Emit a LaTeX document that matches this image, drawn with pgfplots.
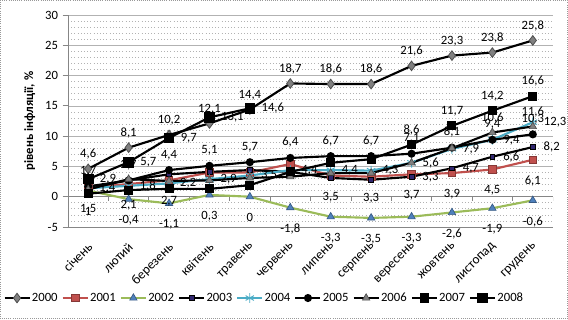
\documentclass[border=0pt]{standalone}
\usepackage{pgfplots}
\usepackage{pgfplotstable}
\pgfplotsset{compat=1.18}
\usepackage{fontspec}
\setmainfont{Carlito}

\definecolor{gridline}{RGB}{178,178,178}
\definecolor{axisgray}{RGB}{134,134,134}
\definecolor{c2001}{RGB}{192,80,77}
\definecolor{c2002line}{RGB}{155,187,89}
\definecolor{c2002mark}{RGB}{79,129,189}
\definecolor{c2003mark}{RGB}{48,38,110}
\definecolor{c2004}{RGB}{75,172,198}
\definecolor{markgray}{RGB}{128,128,128}

% cumulative inflation since the start of each year, %
\pgfplotstableread{
m  y2000 y2001 y2002 y2003 y2004 y2005 y2006 y2007
0   4.6  1.5   1.0  1.5   1.4   1.7   1.2   0.5
1   8.1  2.1  -0.4  2.7   1.8   2.7   2.9   1.1
2  10.2  2.7  -1.1  3.7   2.2   4.4   2.6   1.3
3  12.1  4.0   0.3  4.1   2.9   5.1   2.7   1.3
4  14.4  4.0   0.0  4.4   3.5   5.7   3.1   1.9
5  18.7  5.4  -1.8  4.1   4.4   6.4   3.3   4.1
6  18.6  3.5  -3.3  3.1   4.4   6.7   3.9   5.6
7  18.6  3.3  -3.5  2.8   4.3   6.7   3.9   6.2
8  21.6  3.7  -3.3  3.3   5.6   7.1   5.6   8.6
9  23.3  3.9  -2.6  4.7   7.9   8.1   8.0  11.7
10 23.8  4.5  -1.9  6.6   9.4   9.4  10.6  14.2
11 25.8  6.1  -0.6  8.2  12.3  10.3  11.6  16.6
}\inflation

\pgfplotstableread{
m  y2008
0   2.9
1   5.7
2   9.7
3  13.1
4  14.6
}\inflationeight

\pgfplotsset{
  lblabove/.style={nodes near coords, every node near coord/.append style={anchor=south, yshift=6pt}},
  lblbelow/.style={nodes near coords, every node near coord/.append style={anchor=north, yshift=-11pt}},
  lblright/.style={nodes near coords, every node near coord/.append style={anchor=west, xshift=7pt}},
}

\begin{document}
\begin{tikzpicture}
\begin{axis}[
  name=ax,
  scale only axis,
  width=363.75pt, height=159pt,
  xmin=-0.5, xmax=11.5, ymin=-5, ymax=30,
  xtick={0,...,11},
  xticklabels={січень,лютий,березень,квітень,травень,червень,липень,серпень,вересень,жовтень,листопад,грудень},
  xticklabel style={xshift=-1pt, yshift=-2pt, rotate=45, anchor=north east, font=\fontsize{10}{12}\selectfont},
  x tick style={draw=none},
  ytick={-5,0,...,30},
  minor y tick num=4,
  ymajorgrids, yminorgrids,
  major grid style={gridline, line width=0.5pt},
  minor grid style={gridline, dotted, line width=0.5pt},
  axis lines*=left,
  axis line style={axisgray, line width=0.6pt},
  y tick style={axisgray, line width=0.6pt},
  tick align=outside,
  major tick length=4pt,
  minor tick length=0pt,
  yticklabel style={font=\fontsize{9.5}{11}\selectfont},
  ylabel={рівень інфляції, \%},
  ylabel style={at={(axis description cs:-0.079,0.5)}, anchor=center, font=\fontsize{9.5}{11}\selectfont\bfseries},
  /pgf/number format/use comma,
  /pgf/number format/fixed,
  /pgf/number format/precision=1,
  /pgf/number format/assume math mode=true,
  every node near coord/.append style={text=black, font=\fontsize{9.5}{11}\selectfont, inner sep=1pt},
  legend columns=9,
  legend style={at={(0.404,-0.335)}, anchor=center, draw=none, fill=none,
    font=\fontsize{9.5}{11}\selectfont,
    nodes={inner sep=1pt},
    /tikz/every even column/.append style={column sep=2pt}},
  legend image code/.code={\draw[mark repeat=2, mark phase=2, #1] plot coordinates {(0cm,0cm) (0.33cm,0cm) (0.66cm,0cm)};},
]

% horizontal axis line through zero with category separators
\draw[axisgray, line width=0.6pt] (axis cs:-0.5,0) -- (axis cs:11.5,0);
\pgfplotsinvokeforeach{-0.5,0.5,...,11.5}{
  \draw[axisgray, line width=0.6pt] (axis cs:#1,0) -- ++(0pt,-3pt);
}

\addplot[black, line width=1.6pt, mark=diamond*, mark size=3.6pt,
  mark options={fill=markgray, draw=markgray!60!black, line width=0.6pt},
  lblabove]
  table[x=m, y=y2000] {\inflation};
\addlegendentry{2000}

\addplot[c2001, line width=1.6pt, mark=square*, mark size=2.8pt,
  mark options={fill=c2001, draw=c2001!70!black, line width=0.5pt}]
  table[x=m, y=y2001] {\inflation};
\addlegendentry{2001}

\addplot[c2002line, line width=1.6pt, mark=triangle*, mark size=3.2pt,
  mark options={fill=c2002mark, draw=c2002mark!70!black, line width=0.5pt},
  lblbelow]
  table[x=m, y=y2002] {\inflation};
\addlegendentry{2002}

\addplot[black, line width=1.6pt, mark=square*, mark size=1.8pt,
  mark options={fill=c2003mark, draw=black, line width=0.5pt}]
  table[x=m, y=y2003] {\inflation};
\addlegendentry{2003}

\addplot[c2004, line width=1.6pt, mark=asterisk, mark size=3.6pt,
  mark options={draw=c2004, line width=0.7pt},
  lblright]
  table[x=m, y=y2004] {\inflation};
\addlegendentry{2004}

\addplot[black, line width=1.6pt, mark=*, mark size=2.2pt,
  mark options={fill=black},
  lblabove]
  table[x=m, y=y2005] {\inflation};
\addlegendentry{2005}

\addplot[black, line width=1.6pt, mark=triangle*, mark size=3.2pt,
  mark options={fill=markgray, draw=markgray!60!black, line width=0.5pt}]
  table[x=m, y=y2006] {\inflation};
\addlegendentry{2006}

\addplot[black, line width=1.6pt, mark=square*, mark size=2.6pt,
  mark options={fill=black}]
  table[x=m, y=y2007] {\inflation};
\addlegendentry{2007}

\addplot[black, line width=1.6pt, mark=square*, mark size=3.2pt,
  mark options={fill=black},
  lblright]
  table[x=m, y=y2008] {\inflationeight};
\addlegendentry{2008}

% value labels shown only for part of some years
\addplot[draw=none, mark=none, forget plot, lblbelow,
  x filter/.expression={and(x>2.5,x<5.5) ? nan : x}]
  table[x=m, y=y2001] {\inflation};
\addplot[draw=none, mark=none, forget plot, lblright,
  restrict x to domain=7.5:11.5]
  table[x=m, y=y2003] {\inflation};
\addplot[draw=none, mark=none, forget plot, lblabove,
  restrict x to domain=9.5:11.5]
  table[x=m, y=y2006] {\inflation};
\addplot[draw=none, mark=none, forget plot, lblabove,
  restrict x to domain=7.5:11.5]
  table[x=m, y=y2007] {\inflation};
\end{axis}

\coordinate (frameSW) at ([shift={(-51pt,-69pt)}]ax.south west);
\coordinate (frameNE) at ([shift={(11.25pt,11.25pt)}]ax.north east);
\pgfresetboundingbox
\path[use as bounding box] (frameSW) rectangle (frameNE);
\draw[gray!80, densely dotted, line width=0.6pt]
  ([shift={(0.3pt,0.3pt)}]frameSW) rectangle ([shift={(-0.3pt,-0.3pt)}]frameNE);
\end{tikzpicture}
\end{document}
